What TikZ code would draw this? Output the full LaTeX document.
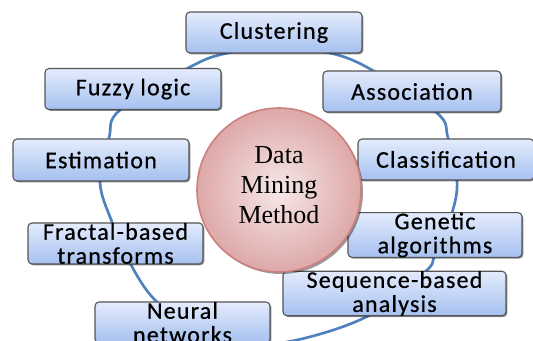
\documentclass[tikz,border=0pt]{standalone}
\usepackage{fontspec}
\setmainfont{Liberation Serif}
\newfontfamily\boxfont{Carlito}[LetterSpace=5,FakeBold=0.6]
\usetikzlibrary{shadows}
\definecolor{ringblue}{RGB}{79,129,189}
\definecolor{boxtop}{RGB}{228,236,252}
\definecolor{boxbot}{RGB}{165,192,240}
\definecolor{boxline}{RGB}{85,85,85}
\definecolor{circin}{RGB}{246,232,232}
\definecolor{circout}{RGB}{222,168,168}
\definecolor{circline}{RGB}{204,128,128}
\begin{document}
\begin{tikzpicture}[x=0.75pt,y=-0.75pt,
  boxnode/.style={draw=boxline, line width=0.8pt, rounded corners=3pt,
    top color=boxtop, bottom color=boxbot, minimum height=30.75pt,
    inner sep=0pt, align=center,
    font=\boxfont\fontsize{18pt}{18pt}\selectfont,
    drop shadow={shadow xshift=1pt, shadow yshift=-1pt, opacity=0.45, fill=black}},
  ring/.style={ringblue, line width=2pt},
  hub/.style={circle, draw=circline, line width=1.2pt, inner color=circin,
    outer color=circout, minimum size=123pt, inner sep=0pt,
    drop shadow={shadow xshift=1.5pt, shadow yshift=-1.5pt, opacity=0.4, fill=black}},
  hubtext/.style={align=center, font=\fontsize{19.5pt}{22.5pt}\selectfont}
]
\useasboundingbox (0,0) rectangle (533,341);
% ring
\draw[ring] plot[smooth cycle, tension=0.6] coordinates {
  (279,48) (330,53) (372,70) (437,113) (448,138) (457,180) (452,213)
  (435,255) (425,272) (370,315) (297,340) (245,343) (195,328) (155,300)
  (130,263) (112,222) (100,182) (109,138) (120,110) (190,67) (228,53)};
% boxes
\node[boxnode, minimum width=132pt] (clu) at (274,32.5) {Clustering};
\node[boxnode, minimum width=132pt] (fuz) at (133,89) {Fuzzy logic};
\node[boxnode, minimum width=133.5pt] (ass) at (412,91.5) {Association};
\node[boxnode, minimum width=132pt, minimum height=31.5pt] (est) at (101,160) {Estimation};
\node[boxnode, minimum width=132pt] (cla) at (446,159.5) {Classification};
\node[boxnode, minimum width=131.25pt] (fra) at (115.5,243.5) {Fractal-based\\transforms};
\node[boxnode, minimum width=130.5pt, minimum height=30pt] (gen) at (435,235) {Genetic\\algorithms};
\node[boxnode, minimum width=167.25pt] (seq) at (394.5,293.5) {Sequence-based\\analysis};
\node[boxnode, minimum width=131.25pt] (neu) at (182.5,322.5) {Neural\\networks};
% hub
\node[hub] (dm) at (279,190) {};
\node[hubtext] (dmt) at ([yshift=3.5pt]dm.center) {Data\\Mining\\Method};
\end{tikzpicture}
\end{document}
